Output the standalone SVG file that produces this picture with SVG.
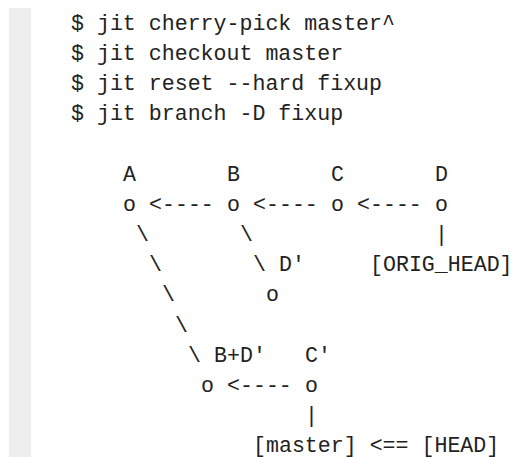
<svg xmlns="http://www.w3.org/2000/svg" width="515" height="457" viewBox="0 0 515 457" xml:space="preserve">
  <style>
    .code { font-family: "Liberation Mono", "DejaVu Sans Mono", monospace; font-size: 21.6px; fill: #222222; }
  </style>
  <rect x="0" y="0" width="515" height="457" fill="#ffffff"/>
  <!-- left rule of the code block -->
  <rect x="9" y="8" width="22" height="449" fill="#eeeeee"/>

  <!-- shell commands; line pitch 30.2px -->
  <g id="commands" class="code">
    <text x="71" y="29.5">$ jit cherry-pick master^</text>
    <text x="71" y="59.7">$ jit checkout master</text>
    <text x="71" y="89.9">$ jit reset --hard fixup</text>
    <text x="71" y="120.1">$ jit branch -D fixup</text>
  </g>

  <!-- commits: one column is 13px, column 0 at x=71 -->
  <g id="commit-A" class="code"><text x="123" y="180.5">A</text><text x="123" y="210.7">o</text></g>
  <g id="commit-B" class="code"><text x="227" y="180.5">B</text><text x="227" y="210.7">o</text></g>
  <g id="commit-C" class="code"><text x="331" y="180.5">C</text><text x="331" y="210.7">o</text></g>
  <g id="commit-D" class="code"><text x="435" y="180.5">D</text><text x="435" y="210.7">o</text></g>
  <g id="commit-D2" class="code"><text x="279" y="271.1">D'</text><text x="266" y="301.3">o</text></g>
  <g id="commit-BD" class="code"><text x="214" y="361.7">B+D'</text><text x="201" y="391.9">o</text></g>
  <g id="commit-C2" class="code"><text x="305" y="361.7">C'</text><text x="305" y="391.9">o</text></g>

  <!-- refs -->
  <g id="ref-orig-head" class="code"><text x="370" y="271.1">[ORIG_HEAD]</text></g>
  <g id="ref-master" class="code"><text x="253" y="452.3">[master] &lt;== [HEAD]</text></g>

  <!-- connectors -->
  <g id="connectors" class="code">
    <text x="149" y="210.7">&lt;----</text>
    <text x="253" y="210.7">&lt;----</text>
    <text x="357" y="210.7">&lt;----</text>
    <text x="136" y="240.9">\</text>
    <text x="240" y="240.9">\</text>
    <text x="435" y="240.9">|</text>
    <text x="149" y="271.1">\</text>
    <text x="253" y="271.1">\</text>
    <text x="162" y="301.3">\</text>
    <text x="175" y="331.5">\</text>
    <text x="188" y="361.7">\</text>
    <text x="227" y="391.9">&lt;----</text>
    <text x="305" y="422.1">|</text>
  </g>
</svg>
